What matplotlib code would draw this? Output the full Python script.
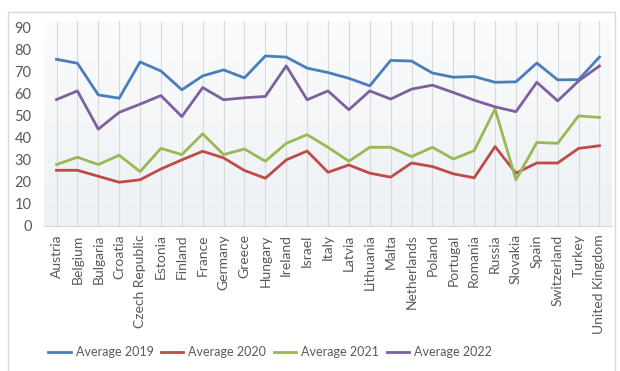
import numpy as np
import matplotlib.pyplot as plt
from matplotlib.patches import Rectangle
from matplotlib.colors import LinearSegmentedColormap

countries = ["Austria", "Belgium", "Bulgaria", "Croatia", "Czech Republic", "Estonia",
             "Finland", "France", "Germany", "Greece", "Hungary", "Ireland", "Israel",
             "Italy", "Latvia", "Lithuania", "Malta", "Netherlands", "Poland", "Portugal",
             "Romania", "Russia", "Slovakia", "Spain", "Switzerland", "Turkey",
             "United Kingdom"]

avg2019 = [75.4, 73.6, 59.3, 57.8, 74.2, 70.1, 61.6, 67.9, 70.6, 67.0, 76.9, 76.4, 71.4,
           69.4, 66.8, 63.4, 74.9, 74.6, 69.2, 67.3, 67.6, 65.0, 65.2, 73.7, 66.1, 66.2, 76.4]
avg2020 = [25.2, 25.2, 22.5, 19.8, 20.9, 25.8, 29.9, 33.8, 30.8, 25.1, 21.6, 29.9, 33.9,
           24.3, 27.6, 23.9, 22.1, 28.5, 26.9, 23.6, 21.8, 35.9, 23.9, 28.5, 28.5, 35.1, 36.3]
avg2021 = [27.8, 31.1, 27.8, 32.0, 24.6, 35.1, 32.3, 41.7, 32.3, 34.8, 29.3, 37.4, 41.3,
           35.6, 29.3, 35.6, 35.6, 31.4, 35.6, 30.3, 34.1, 52.9, 20.9, 37.8, 37.4, 49.8, 49.1]
avg2022 = [57.2, 61.1, 43.8, 51.4, 55.1, 59.0, 49.5, 62.6, 57.1, 58.0, 58.6, 72.4, 57.1,
           61.1, 52.6, 61.1, 57.4, 61.9, 63.7, 60.4, 56.9, 53.9, 51.7, 65.0, 56.6, 65.6, 72.4]

series = [("Average 2019", avg2019, "#4a7ebb"),
          ("Average 2020", avg2020, "#be4b48"),
          ("Average 2021", avg2021, "#98b954"),
          ("Average 2022", avg2022, "#7d60a0")]

plt.rcParams['font.family'] = ['Lato', 'DejaVu Sans']
text_color = "#595959"

fig = plt.figure(figsize=(6.2, 3.71), dpi=100)
fig.patch.set_facecolor("white")

# light outer frame around the whole chart
fig.patches.append(Rectangle((8 / 620, -0.05), 607 / 620, 1 - 12 / 371 + 0.05,
                             transform=fig.transFigure, fill=False,
                             edgecolor="#d9d9d9", linewidth=1.0))

ax = fig.add_axes([44 / 620, 1 - 226 / 371, 568 / 620, 205.4 / 371])
x = np.arange(len(countries))

# soft gradient in the plot area
grad = np.linspace(0, 1, 256).reshape(-1, 1)
ax.imshow(grad, extent=(-0.6, len(countries) - 0.4, 0, 92.9), aspect="auto",
          cmap=LinearSegmentedColormap.from_list("bg", ["#edf1f4", "#fbfbfc"]),
          origin="lower", zorder=0)

for xi in x:
    ax.axvline(xi, color="#d9d9d9", linewidth=0.8, zorder=1)

for label, vals, color in series:
    ax.plot(x, vals, color=color, linewidth=2.0, label=label, zorder=3)

ax.set_xlim(-0.6, len(countries) - 0.4)
ax.set_ylim(0, 92.9)
ax.set_yticks(range(0, 91, 10))
ax.set_xticks(x)
ax.set_xticklabels(countries, rotation=90, fontsize=10, color=text_color)
ax.tick_params(axis="y", labelsize=10.5, labelcolor=text_color, length=0, pad=9)
ax.tick_params(axis="x", length=0, pad=6)
for side in ["top", "right", "left"]:
    ax.spines[side].set_visible(False)
ax.spines["bottom"].set_color("#d9d9d9")

handles, labels = ax.get_legend_handles_labels()
leg = fig.legend(handles, labels, loc="center", bbox_to_anchor=(270 / 620, 1 - 352 / 371),
                 ncol=4, frameon=False, fontsize=9, handlelength=1.8,
                 columnspacing=0.6, handletextpad=0.4)
for t in leg.get_texts():
    t.set_color(text_color)

fig.savefig("out.png", dpi=100)
